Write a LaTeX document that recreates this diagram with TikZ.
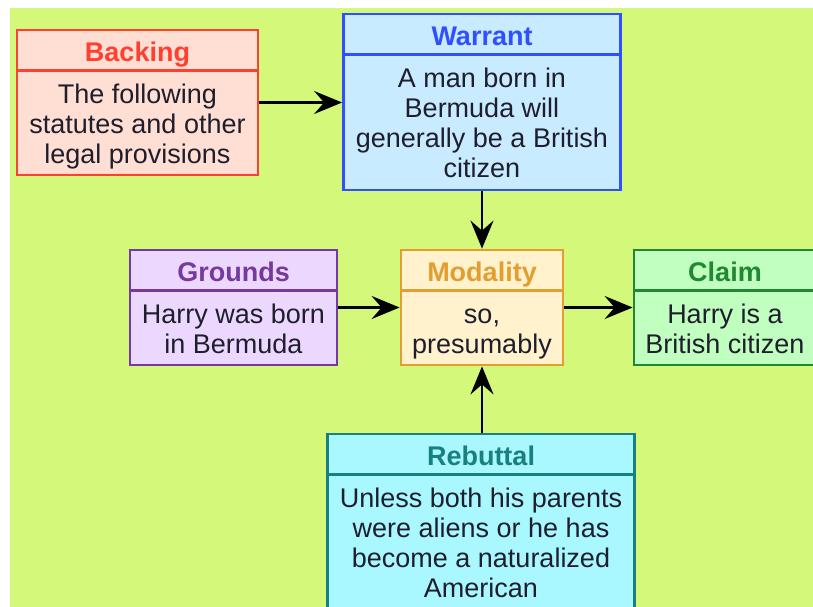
\documentclass[tikz,border=0pt]{standalone}
\usepackage{fontspec}
\setmainfont{Liberation Sans}
\usetikzlibrary{arrows.meta}

\definecolor{lime}{RGB}{212,248,122}
\definecolor{bodytext}{RGB}{30,30,45}
\definecolor{backfill}{RGB}{255,222,212}
\definecolor{backline}{RGB}{255,64,48}
\definecolor{warrfill}{RGB}{200,235,255}
\definecolor{warrline}{RGB}{48,80,255}
\definecolor{grndfill}{RGB}{236,216,255}
\definecolor{grndline}{RGB}{118,58,158}
\definecolor{modfill}{RGB}{255,242,204}
\definecolor{modline}{RGB}{228,158,48}
\definecolor{claimfill}{RGB}{192,255,192}
\definecolor{claimline}{RGB}{32,136,48}
\definecolor{rebfill}{RGB}{170,248,255}
\definecolor{rebline}{RGB}{24,128,128}

\tikzset{
  box/.style={line width=2.8pt, inner sep=0pt},
  head/.style={font=\bfseries\fontsize{27}{30}\selectfont, inner sep=0pt, anchor=base},
  body/.style={font=\fontsize{27}{30}\selectfont, align=center, text=bodytext, inner sep=0pt, anchor=north},
  rule/.style={line width=2.8pt},
  link/.style={-{Stealth[length=28pt,width=23pt,inset=10pt]}, line width=2.5pt}
}

\begin{document}
\begin{tikzpicture}[x=1pt,y=-1pt]
  \useasboundingbox (0,0) rectangle (813,607);
  \clip (0,0) rectangle (813,607);
  \fill[white] (0,0) rectangle (813,607);
  \fill[lime] (10,8) rectangle (813,607);

  % boxes
  \node[box, draw=backline, fill=backfill, minimum width=241pt, minimum height=145pt] (backing) at (137.5,102.5) {};
  \node[box, draw=warrline, fill=warrfill, minimum width=277pt, minimum height=176pt] (warrant) at (482,102) {};
  \node[box, draw=grndline, fill=grndfill, minimum width=207pt, minimum height=115pt] (grounds) at (233.5,307.5) {};
  \node[box, draw=modline, fill=modfill, minimum width=162pt, minimum height=115pt] (modality) at (482,307.5) {};
  \node[box, draw=claimline, fill=claimfill, minimum width=182pt, minimum height=115pt] (claim) at (725,307.5) {};
  \node[box, draw=rebline, fill=rebfill, minimum width=307pt, minimum height=175pt] (rebuttal) at (481,521.5) {};

  % titles and dividers
  \foreach \b/\c/\t in {backing/backline/Backing, warrant/warrline/Warrant,
      grounds/grndline/Grounds, modality/modline/Modality,
      claim/claimline/Claim, rebuttal/rebline/Rebuttal} {
    \node[head, text=\c] (\b title) at ([yshift=-32.5pt]\b.north) {\t};
    \draw[rule, draw=\c] ([yshift=-42pt]\b.north west) -- ([yshift=-42pt]\b.north east);
  }

  % texts
  \node[body] (backing text) at ([yshift=-54pt]backing.north)
    {\strut The following\\statutes and other\\legal provisions};
  \node[body] (warrant text) at ([yshift=-54pt]warrant.north)
    {\strut A man born in\\Bermuda will\\generally be a British\\citizen};
  \node[body] (grounds text) at ([yshift=-54pt]grounds.north)
    {\strut Harry was born\\in Bermuda};
  \node[body] (modality text) at ([yshift=-54pt]modality.north)
    {\strut so,\\presumably};
  \node[body] (claim text) at ([yshift=-54pt]claim.north)
    {\strut Harry is a\\British citizen};
  \node[body] (rebuttal text) at ([yshift=-54pt]rebuttal.north)
    {\strut Unless both his parents\\were aliens or he has\\become a naturalized\\American};

  % arrows
  \begin{scope}[link]
    \draw (backing.east) -- (backing.east -| warrant.west);
    \draw (warrant) -- (modality);
    \draw (grounds) -- (modality);
    \draw (modality) -- (claim);
    \draw (rebuttal.north -| modality) -- (modality.south);
  \end{scope}
\end{tikzpicture}
\end{document}
